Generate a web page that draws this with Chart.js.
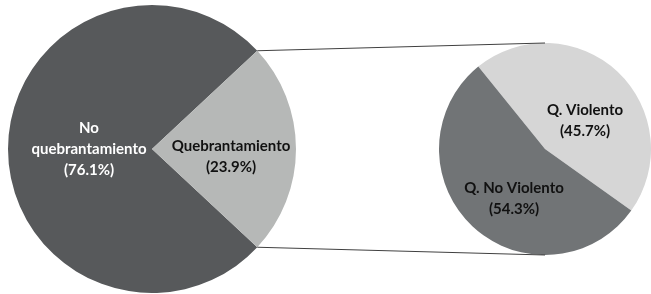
<!DOCTYPE html>
<html>
<head>
<meta charset="utf-8">
<script src="https://cdn.jsdelivr.net/npm/chart.js@4.4.0/dist/chart.umd.min.js"></script>
<style>
  html, body { margin: 0; padding: 0; background: #fff; }
  #wrap { position: relative; width: 651px; height: 294px; overflow: hidden; }
  #mainBox { position: absolute; left: 8px; top: 5px; width: 288px; height: 288px; }
  #subBox { position: absolute; left: 439px; top: 43px; width: 212px; height: 212px; }
  #lines { position: absolute; left: 0; top: 0; pointer-events: none; }
</style>
</head>
<body>
<div id="wrap">
  <div id="mainBox"><canvas id="mainChart"></canvas></div>
  <div id="subBox"><canvas id="subChart"></canvas></div>
  <canvas id="lines" width="651" height="294"></canvas>
</div>
<script>
// datos
const mainLabels = [['No', 'quebrantamiento'], 'Quebrantamiento'];
const mainValues = [76.1, 23.9];
const subLabels = ['Q. Violento', 'Q. No Violento'];
const subValues = [45.7, 54.3];

// colores
const mainColors = ['#57595b', '#b6b8b7'];
const subColors = ['#d6d6d6', '#717476'];

// etiquetas dentro de cada sector
const sliceLabels = {
  id: 'sliceLabels',
  afterDatasetsDraw(chart, args, opts) {
    const ctx = chart.ctx;
    const meta = chart.getDatasetMeta(0);
    const values = chart.data.datasets[0].data;
    ctx.save();
    ctx.font = 'bold 15px Lato';
    ctx.textAlign = 'center';
    ctx.textBaseline = 'middle';
    meta.data.forEach((arc, i) => {
      const lab = chart.data.labels[i];
      const lines = (Array.isArray(lab) ? lab : [lab]).concat('(' + values[i].toFixed(1) + '%)');
      const cx = arc.x + opts.offsets[i][0];
      const cy = arc.y + opts.offsets[i][1];
      ctx.fillStyle = opts.colors[i];
      lines.forEach((t, k) => {
        ctx.fillText(t, cx, cy + (k - (lines.length - 1) / 2) * opts.lineHeight);
      });
    });
    ctx.restore();
  }
};

const total = mainValues.reduce((a, b) => a + b, 0);

const mainChart = new Chart(document.getElementById('mainChart'), {
  type: 'pie',
  data: {
    labels: mainLabels,
    datasets: [{ data: mainValues, backgroundColor: mainColors, borderWidth: 0 }]
  },
  options: {
    responsive: true,
    maintainAspectRatio: false,
    animation: false,
    rotation: 90 + mainValues[1] / total * 180,
    plugins: {
      legend: { display: false },
      tooltip: { enabled: false },
      sliceLabels: {
        offsets: [[-63, 0], [79, 8]],
        colors: ['#ffffff', '#111111'],
        lineHeight: 21
      }
    }
  },
  plugins: [sliceLabels]
});

const subChart = new Chart(document.getElementById('subChart'), {
  type: 'pie',
  data: {
    labels: subLabels,
    datasets: [{ data: subValues, backgroundColor: subColors, borderWidth: 0 }]
  },
  options: {
    responsive: true,
    maintainAspectRatio: false,
    animation: false,
    rotation: -39,
    plugins: {
      legend: { display: false },
      tooltip: { enabled: false },
      sliceLabels: {
        offsets: [[40, -28], [-31, 50]],
        colors: ['#111111', '#111111'],
        lineHeight: 21
      }
    }
  },
  plugins: [sliceLabels]
});

// lineas que unen el sector con el segundo pastel
function drawConnectors() {
  const wrapBox = document.getElementById('wrap').getBoundingClientRect();
  const mBox = mainChart.canvas.getBoundingClientRect();
  const sBox = subChart.canvas.getBoundingClientRect();
  const arc = mainChart.getDatasetMeta(0).data[1];
  const sub = subChart.getDatasetMeta(0).data[0];
  const mx = mBox.left - wrapBox.left + arc.x;
  const my = mBox.top - wrapBox.top + arc.y;
  const sx = sBox.left - wrapBox.left + sub.x;
  const sy = sBox.top - wrapBox.top + sub.y;
  const r = arc.outerRadius;
  const ctx = document.getElementById('lines').getContext('2d');
  ctx.strokeStyle = '#404040';
  ctx.lineWidth = 1;
  ctx.beginPath();
  ctx.moveTo(mx + r * Math.cos(arc.startAngle), my + r * Math.sin(arc.startAngle));
  ctx.lineTo(sx, sy - sub.outerRadius);
  ctx.moveTo(mx + r * Math.cos(arc.endAngle), my + r * Math.sin(arc.endAngle));
  ctx.lineTo(sx, sy + sub.outerRadius);
  ctx.stroke();
}
drawConnectors();
</script>
</body>
</html>
